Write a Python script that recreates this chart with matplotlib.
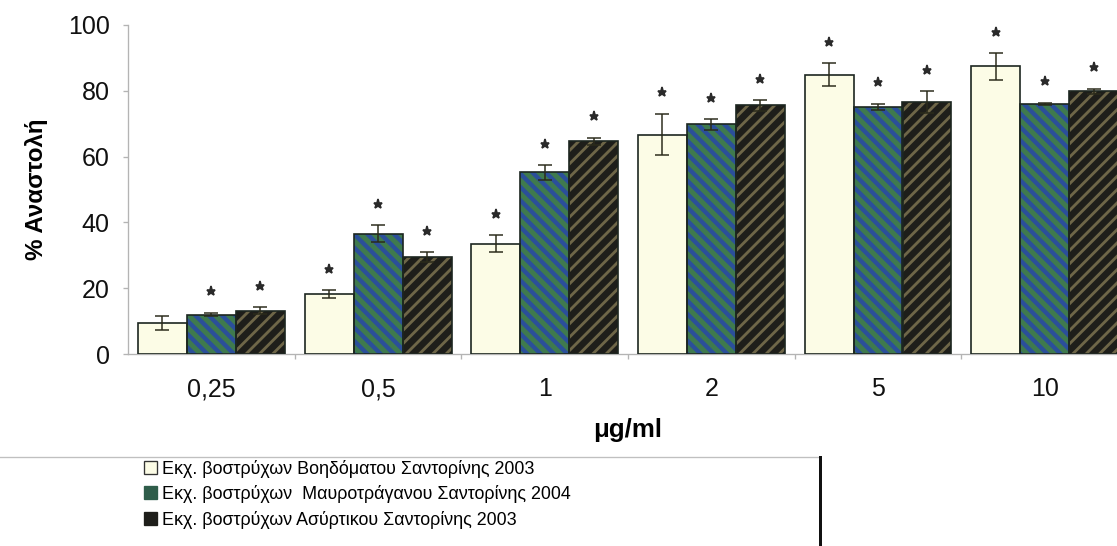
import matplotlib
matplotlib.use("Agg")
import matplotlib.pyplot as plt
from matplotlib.patches import Patch
from matplotlib.lines import Line2D
import numpy as np

plt.rcParams['font.family'] = ['Liberation Sans', 'DejaVu Sans']
plt.rcParams['hatch.linewidth'] = 2.2

categories = ['0,25', '0,5', '1', '2', '5', '10']
series_names = ['Εκχ. βοστρύχων Βοηδόματου Σαντορίνης 2003',
                'Εκχ. βοστρύχων  Μαυροτράγανου Σαντορίνης 2004',
                'Εκχ. βοστρύχων Ασύρτικου Σαντορίνης 2003']

vals_voidomatou = [9.4, 18.2, 33.5, 66.7, 84.9, 87.4]
err_voidomatou = [2.1, 1.2, 2.6, 6.3, 3.4, 4.0]
vals_mavrotragano = [12.0, 36.6, 55.2, 69.8, 75.1, 76.1]
err_mavrotragano = [0.5, 2.6, 2.2, 1.6, 1.0, 0.3]
vals_asyrtiko = [13.2, 29.4, 64.6, 75.6, 76.6, 79.8]
err_asyrtiko = [1.0, 1.5, 1.1, 1.6, 3.2, 0.8]

stars_voidomatou = [0, 1, 1, 1, 1, 1]
stars_mavrotragano = [1, 1, 1, 1, 1, 1]
stars_asyrtiko = [1, 1, 1, 1, 1, 1]

face_colors = ['#fcfce6', '#3f7a4e', '#1e1e1a']
hatch_colors = [None, '#2b4f9a', '#6e6648']
hatches = [None, '\\\\\\', '///']
hatch_widths = [None, 2.6, 1.7]
edge = '#1c2620'

fig = plt.figure(figsize=(1117 / 120, 546 / 120), dpi=120)
ax = fig.add_axes([128 / 1117, 192 / 546, 1000 / 1117, 329 / 546])

x = np.arange(len(categories))
w = 0.294
all_vals = [vals_voidomatou, vals_mavrotragano, vals_asyrtiko]
all_errs = [err_voidomatou, err_mavrotragano, err_asyrtiko]
all_stars = [stars_voidomatou, stars_mavrotragano, stars_asyrtiko]

for k in range(3):
    xs = x + (k - 1) * w
    v = np.array(all_vals[k])
    e = np.array(all_errs[k])
    ax.bar(xs, v, w, color=face_colors[k], linewidth=0, zorder=2)
    if hatches[k]:
        hb = ax.bar(xs, v, w, color='none', edgecolor=hatch_colors[k],
                    hatch=hatches[k], linewidth=0, zorder=3)
        for p in hb:
            if hasattr(p, 'set_hatch_linewidth'):
                p.set_hatch_linewidth(hatch_widths[k])
    ax.bar(xs, v, w, color='none', edgecolor=edge, linewidth=1.0, zorder=4)
    ax.errorbar(xs, v, yerr=e, fmt='none', ecolor='#2a2a1a', elinewidth=0.9,
                capsize=4, capthick=0.9, zorder=5)
    s = np.array(all_stars[k]) == 1
    ax.plot(xs[s], (v + e + 6.5)[s], linestyle='none', marker='*', ms=5.5,
            color='#2a2a2a', zorder=6)

ax.set_xlim(-0.5, 5.5)
ax.set_ylim(0, 100)
ax.set_yticks(range(0, 101, 20))
ax.set_xticks(x)
ax.set_xticklabels(categories)
ax.set_xticks(x[:-1] + 0.5, minor=True)

for s in ['top', 'right']:
    ax.spines[s].set_visible(False)
for s in ['left', 'bottom']:
    ax.spines[s].set_color('#b4b4b4')
    ax.spines[s].set_linewidth(0.8)

ax.tick_params(axis='y', length=3, width=0.8, color='#b4b4b4', pad=8,
               labelsize=15, labelcolor='#111111')
ax.tick_params(axis='x', which='major', length=0, pad=14, labelsize=15,
               labelcolor='#111111')
ax.tick_params(axis='x', which='minor', length=3, width=0.8, color='#b4b4b4')

ax.set_ylabel('% Αναστολή', fontsize=14.5, fontweight='bold', labelpad=12)
ax.set_xlabel('μg/ml', fontsize=15.5, fontweight='bold', labelpad=10)

handles = [Patch(facecolor='#fcfce6', edgecolor='#333333', linewidth=0.8),
           Patch(facecolor='#2f5d4a', edgecolor='#2f5d4a', linewidth=0.8),
           Patch(facecolor='#1e1e1a', edgecolor='#1e1e1a', linewidth=0.8)]
fig.legend(handles, series_names, loc='upper left',
           bbox_to_anchor=(140 / 1117, 1 - 456 / 546), frameon=False,
           fontsize=10.7, handlelength=0.75, handleheight=0.75,
           handletextpad=0.3, labelspacing=0.42, borderpad=0.2,
           borderaxespad=0)

fig.add_artist(Line2D([0, 820 / 1117], [1 - 457 / 546] * 2,
                      transform=fig.transFigure, color='#c0c0c0', lw=0.8))
fig.add_artist(Line2D([820 / 1117] * 2, [0, 1 - 457 / 546],
                      transform=fig.transFigure, color='#111111', lw=1.8))

fig.savefig('out.png', dpi=120)
